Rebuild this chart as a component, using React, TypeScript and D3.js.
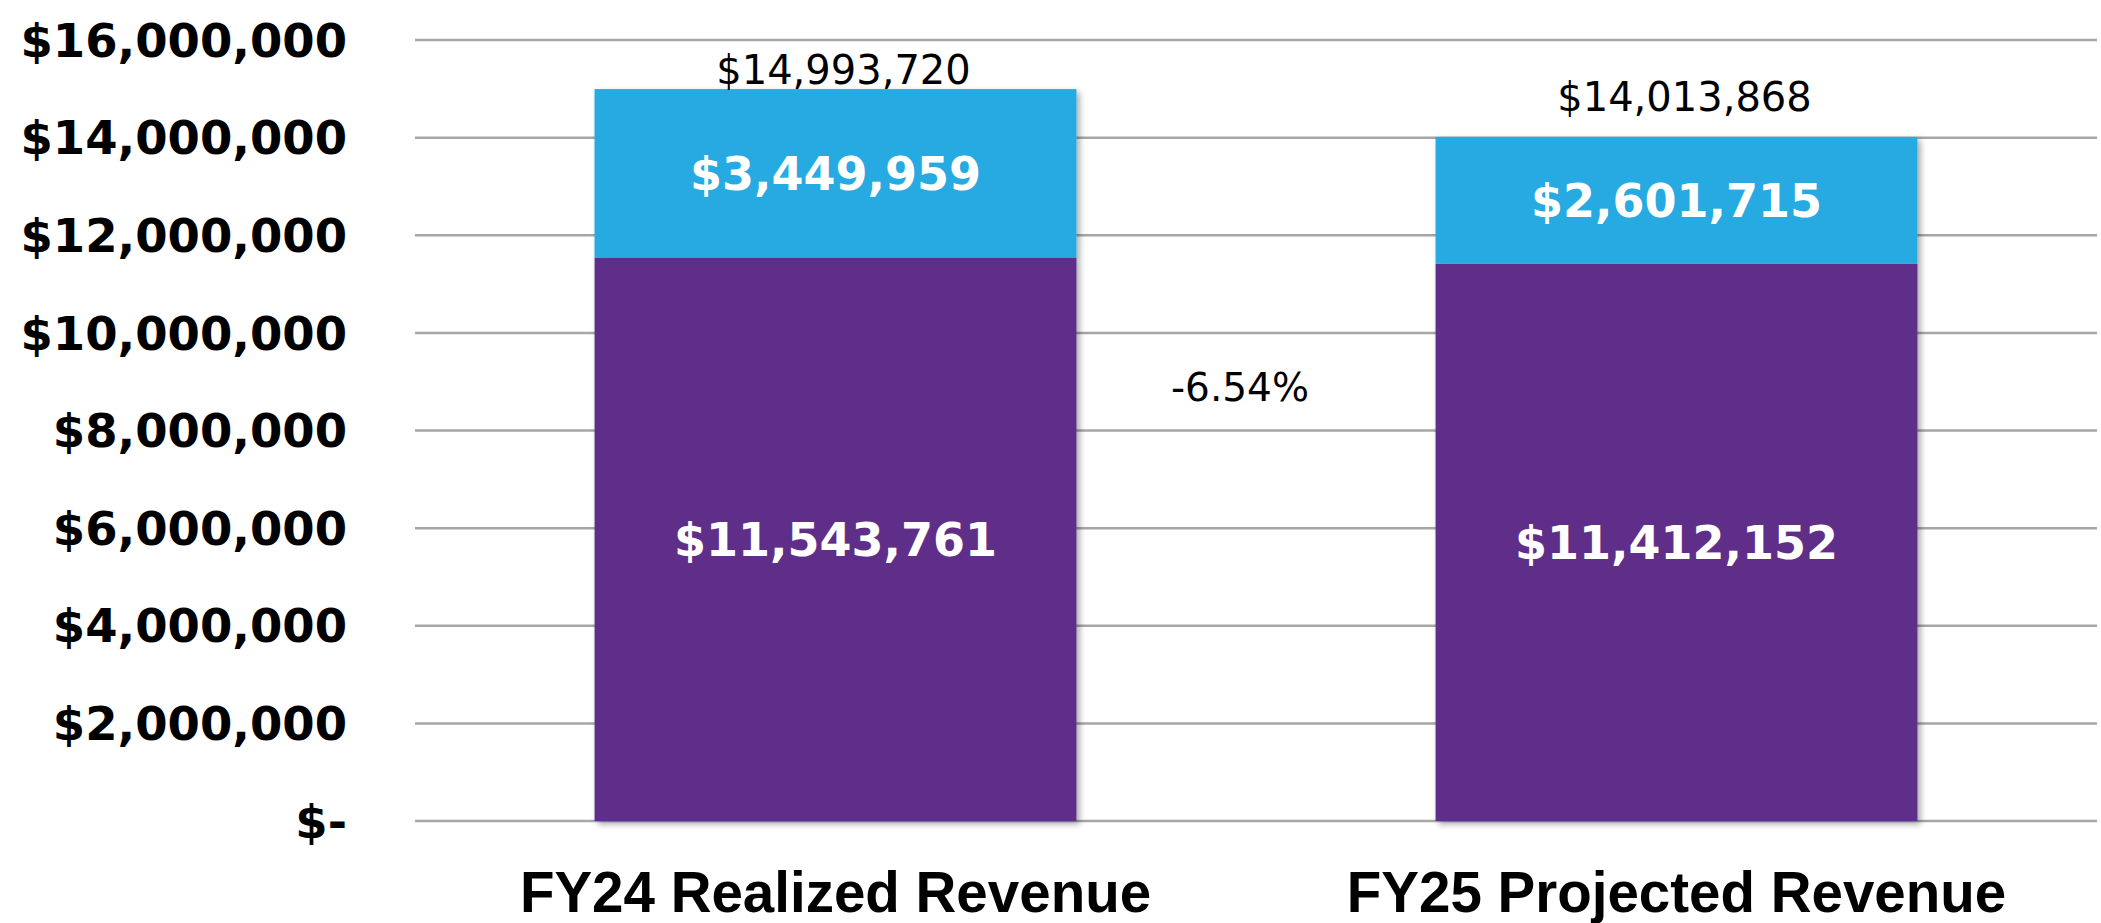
import React from "react";
import * as d3 from "d3";

const categories = ["FY24 Realized Revenue", "FY25 Projected Revenue"];
const baseValues = [11543761, 11412152];
const topValues = [3449959, 2601715];
const totalValues = [14993720, 14013868];
const yTicks = [0, 2000000, 4000000, 6000000, 8000000, 10000000, 12000000, 14000000, 16000000];
const changeLabel = "-6.54%";
const changeLabelValue = 8900000;

const W = 2101;
const H = 923;
const DV = "'DejaVu Sans', Verdana, sans-serif";
const LIB = "'Liberation Sans', Arial, sans-serif";
const PURPLE = "#5f2d88";
const BLUE = "#26aae1";

const fmt = (v: number) => "$" + d3.format(",")(v);
const tickFmt = (v: number) => (v === 0 ? "$-" : "$" + d3.format(",")(v));

export default function App() {
  const x = d3.scaleBand<string>().domain(categories).range([415, 2097]).paddingInner(0.427).paddingOuter(0.2135);
  const y = d3.scaleLinear().domain([0, 16000000]).range([821, 40]);
  const bw = x.bandwidth();
  return (
    <svg width={W} height={H} style={{ position: "absolute", left: 0, top: 0, background: "#fff" }}>
      <defs>
        <filter id="sh" x="-10%" y="-10%" width="130%" height="130%">
          <feDropShadow dx="3" dy="3" stdDeviation="3" floodColor="#000" floodOpacity="0.35" />
        </filter>
      </defs>
      <rect x={0} y={0} width={W} height={H} fill="#fff" />
      {yTicks.map((t) => (
        <g key={t}>
          <line x1={415} x2={2097} y1={y(t)} y2={y(t)} stroke="#a6a6a6" strokeWidth={2.5} />
          <text x={347} y={y(t)} dy="0.36em" textAnchor="end" fontFamily={DV} fontSize={46.5} fontWeight={700} fill="#000">
            {tickFmt(t)}
          </text>
        </g>
      ))}
      {categories.map((c, i) => {
        const x0 = x(c)!;
        const cx = x0 + bw / 2;
        const yb = y(baseValues[i]);
        const yt = y(baseValues[i] + topValues[i]);
        const labelY = Math.max(y(totalValues[i]) - 40, y(16000000) + 30);
        return (
          <g key={c}>
            <g filter="url(#sh)">
              <rect x={x0} y={yb} width={bw} height={y(0) - yb} fill={PURPLE} />
              <rect x={x0} y={yt} width={bw} height={yb - yt} fill={BLUE} />
            </g>
            <text x={cx} y={(yb + y(0)) / 2} dy="0.36em" textAnchor="middle" fontFamily={DV} fontSize={46} fontWeight={700} fill="#fff">
              {fmt(baseValues[i])}
            </text>
            <text x={cx} y={(yb + yt) / 2} dy="0.36em" textAnchor="middle" fontFamily={DV} fontSize={46} fontWeight={700} fill="#fff">
              {fmt(topValues[i])}
            </text>
            <text x={cx + 8} y={labelY} dy="0.36em" textAnchor="middle" fontFamily={DV} fontSize={40} fill="#000">
              {fmt(totalValues[i])}
            </text>
            <text x={cx} y={892} dy="0.36em" textAnchor="middle" fontFamily={LIB} fontSize={56.5} fontWeight={700} fill="#000">
              {c}
            </text>
          </g>
        );
      })}
      <text x={x(categories[1])! - (x.step() - bw) / 2 - 16} y={y(changeLabelValue)} dy="0.36em" textAnchor="middle" fontFamily={DV} fontSize={39} fill="#000">
        {changeLabel}
      </text>
    </svg>
  );
}
